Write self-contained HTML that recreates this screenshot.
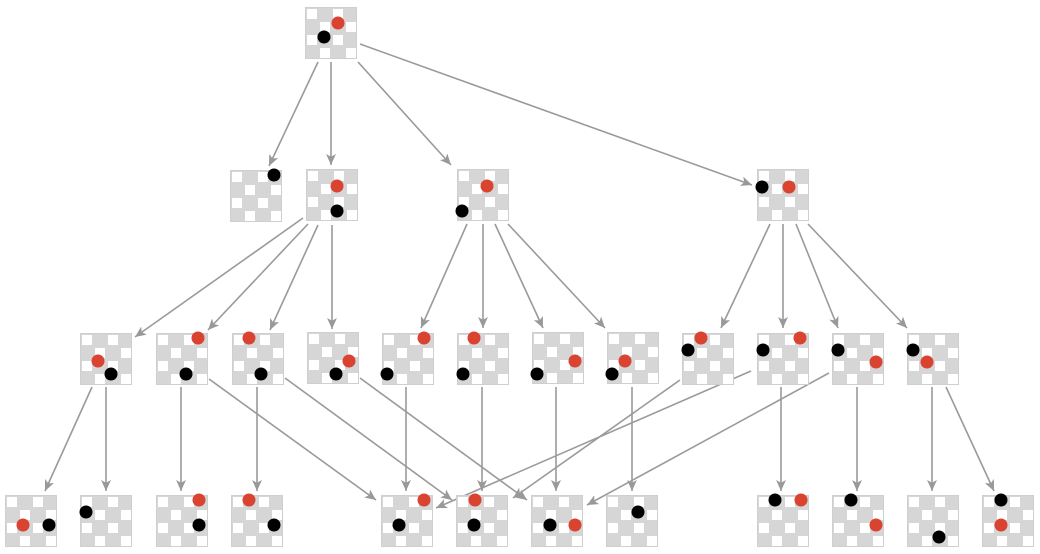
<!DOCTYPE html>
<html><head><meta charset="utf-8"><style>
html,body{margin:0;padding:0;background:#fff;width:1040px;height:554px;overflow:hidden}
</style></head><body>
<svg width="1040" height="554" viewBox="0 0 1040 554" xmlns="http://www.w3.org/2000/svg">
<defs>
<marker id="a" viewBox="0 0 10 10" refX="10" refY="5" markerWidth="11" markerHeight="11" markerUnits="userSpaceOnUse" orient="auto">
<path d="M0,0.5 L10,5 L0,9.5 L2.5,5 Z" fill="#999"/>
</marker>
<g id="b">
<rect x="0.5" y="0.5" width="51" height="51" fill="#d6d6d6" stroke="#cfcfcf"/>
<g fill="#fff">
<rect x="2" y="2" width="10" height="10"/><rect x="28" y="2" width="10" height="10"/>
<rect x="15" y="15" width="10" height="10"/><rect x="41" y="15" width="10" height="10"/>
<rect x="2" y="28" width="10" height="10"/><rect x="28" y="28" width="10" height="10"/>
<rect x="15" y="41" width="10" height="10"/><rect x="41" y="41" width="10" height="10"/>
</g>
</g>
</defs>
<g stroke="#9a9a9a" stroke-width="1.6" fill="none" marker-end="url(#a)">
<line x1="318" y1="62" x2="269" y2="166"/>
<line x1="331" y1="62" x2="331" y2="165"/>
<line x1="358" y1="62" x2="451" y2="165"/>
<line x1="360" y1="44" x2="752" y2="185"/>
<line x1="303" y1="218" x2="135" y2="337"/>
<line x1="308" y1="224" x2="208" y2="330"/>
<line x1="318" y1="225" x2="270" y2="330"/>
<line x1="332" y1="225" x2="332" y2="329"/>
<line x1="467" y1="224" x2="421" y2="328"/>
<line x1="483" y1="224" x2="483" y2="328"/>
<line x1="495" y1="224" x2="543" y2="328"/>
<line x1="508" y1="224" x2="605" y2="328"/>
<line x1="770" y1="224" x2="721" y2="328"/>
<line x1="783" y1="224" x2="783" y2="328"/>
<line x1="796" y1="224" x2="838" y2="328"/>
<line x1="808" y1="224" x2="907" y2="328"/>
<line x1="92" y1="387" x2="45" y2="491"/>
<line x1="106" y1="387" x2="106" y2="491"/>
<line x1="181" y1="387" x2="181" y2="491"/>
<line x1="257" y1="387" x2="257" y2="491"/>
<line x1="209" y1="379" x2="376" y2="500"/>
<line x1="285" y1="378" x2="452" y2="500"/>
<line x1="360" y1="378" x2="527" y2="500"/>
<line x1="406" y1="387" x2="406" y2="491"/>
<line x1="482" y1="387" x2="482" y2="491"/>
<line x1="556" y1="387" x2="556" y2="491"/>
<line x1="632" y1="387" x2="632" y2="491"/>
<line x1="680" y1="380" x2="513" y2="498"/>
<line x1="751" y1="371" x2="436" y2="508"/>
<line x1="829" y1="373" x2="587" y2="505"/>
<line x1="781" y1="387" x2="781" y2="491"/>
<line x1="857" y1="387" x2="857" y2="491"/>
<line x1="932" y1="387" x2="932" y2="491"/>
<line x1="946" y1="387" x2="994" y2="491"/>
</g>
<g>
<use href="#b" x="305" y="7"/>
<use href="#b" x="230" y="170"/><use href="#b" x="306" y="169"/><use href="#b" x="457" y="169"/><use href="#b" x="757" y="169"/>
<use href="#b" x="80" y="333"/><use href="#b" x="156" y="333"/><use href="#b" x="232" y="333"/><use href="#b" x="307" y="332"/>
<use href="#b" x="382" y="333"/><use href="#b" x="457" y="333"/><use href="#b" x="532" y="332"/><use href="#b" x="607" y="332"/>
<use href="#b" x="682" y="333"/><use href="#b" x="757" y="333"/><use href="#b" x="832" y="333"/><use href="#b" x="907" y="333"/>
<use href="#b" x="5" y="495"/><use href="#b" x="80" y="495"/><use href="#b" x="156" y="495"/><use href="#b" x="231" y="495"/>
<use href="#b" x="381" y="495"/><use href="#b" x="456" y="495"/><use href="#b" x="531" y="495"/><use href="#b" x="606" y="495"/>
<use href="#b" x="757" y="495"/><use href="#b" x="832" y="495"/><use href="#b" x="907" y="495"/><use href="#b" x="982" y="495"/>
</g>
<g fill="#d9432f">
<circle cx="338" cy="23" r="6.5"/>
<circle cx="337" cy="186" r="6.5"/><circle cx="487" cy="186" r="6.5"/><circle cx="789" cy="187" r="6.5"/>
<circle cx="98" cy="361" r="6.5"/><circle cx="198" cy="338" r="6.5"/><circle cx="249" cy="338" r="6.5"/><circle cx="349" cy="361" r="6.5"/>
<circle cx="424" cy="338" r="6.5"/><circle cx="474" cy="338" r="6.5"/><circle cx="575" cy="361" r="6.5"/><circle cx="625" cy="361" r="6.5"/>
<circle cx="701" cy="338" r="6.5"/><circle cx="800" cy="338" r="6.5"/><circle cx="876" cy="362" r="6.5"/><circle cx="927" cy="362" r="6.5"/>
<circle cx="23" cy="525" r="6.5"/><circle cx="199" cy="500" r="6.5"/><circle cx="249" cy="500" r="6.5"/>
<circle cx="424" cy="500" r="6.5"/><circle cx="475" cy="500" r="6.5"/><circle cx="575" cy="525" r="6.5"/>
<circle cx="801" cy="500" r="6.5"/><circle cx="876" cy="525" r="6.5"/><circle cx="1001" cy="525" r="6.5"/>
</g>
<g fill="#000">
<circle cx="324" cy="37" r="6.5"/>
<circle cx="274" cy="175" r="6.5"/><circle cx="337" cy="211" r="6.5"/><circle cx="462" cy="211" r="6.5"/><circle cx="762" cy="187" r="6.5"/>
<circle cx="111" cy="374" r="6.5"/><circle cx="186" cy="374" r="6.5"/><circle cx="261" cy="374" r="6.5"/><circle cx="336" cy="374" r="6.5"/>
<circle cx="387" cy="374" r="6.5"/><circle cx="463" cy="374" r="6.5"/><circle cx="537" cy="374" r="6.5"/><circle cx="612" cy="374" r="6.5"/>
<circle cx="688" cy="350" r="6.5"/><circle cx="763" cy="350" r="6.5"/><circle cx="838" cy="350" r="6.5"/><circle cx="913" cy="350" r="6.5"/>
<circle cx="49" cy="525" r="6.5"/><circle cx="86" cy="512" r="6.5"/><circle cx="199" cy="525" r="6.5"/><circle cx="274" cy="525" r="6.5"/>
<circle cx="399" cy="525" r="6.5"/><circle cx="474" cy="525" r="6.5"/><circle cx="550" cy="525" r="6.5"/><circle cx="638" cy="512" r="6.5"/>
<circle cx="775" cy="500" r="6.5"/><circle cx="851" cy="500" r="6.5"/><circle cx="939" cy="537" r="6.5"/><circle cx="1001" cy="500" r="6.5"/>
</g>
</svg>
</body></html>
